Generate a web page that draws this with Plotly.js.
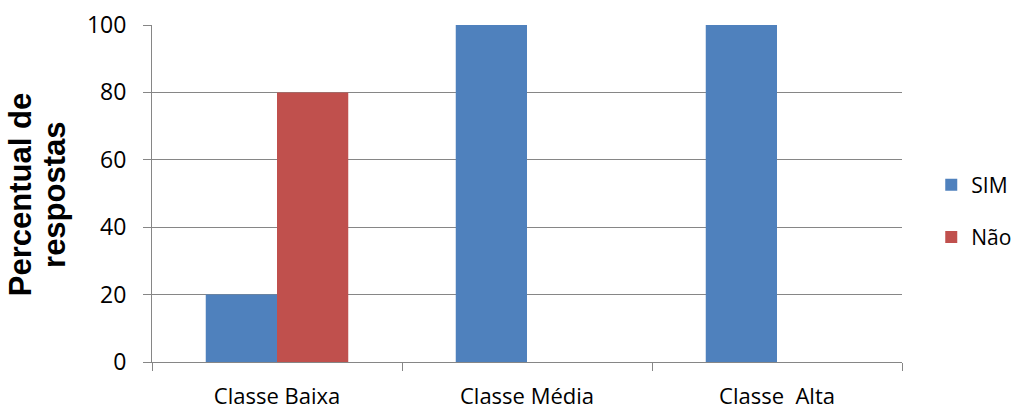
<!DOCTYPE html>
<html>
<head>
<meta charset="utf-8">
<script src="https://cdn.plot.ly/plotly-3.0.1.min.js"></script>
<style>
  html, body { margin: 0; padding: 0; background: #ffffff; }
  #chart { width: 1012px; height: 410px; }
</style>
</head>
<body>
<div id="chart"></div>
<script>
// Categories and answer percentages per class
const categories = ['Classe Baixa', 'Classe Média', 'Classe  Alta'];
const simValues = [20, 100, 100];
const naoValues = [80, 0, 0];
const seriesNames = ['SIM', 'Não'];
const yTicks = [0, 20, 40, 60, 80, 100];

const gridColor = '#868686';
const textFamily = 'Open Sans, Liberation Sans, sans-serif';
const titleFont = { family: 'Liberation Sans, Arial, sans-serif', size: 31, color: '#000000' };

const traces = [
  {
    type: 'bar', name: seriesNames[0], x: categories, y: simValues,
    marker: { color: '#4F81BD' }, legendgroup: 'a', hoverinfo: 'x+y'
  },
  {
    type: 'bar', name: seriesNames[1], x: categories, y: naoValues,
    marker: { color: '#C0504D' }, legendgroup: 'b', hoverinfo: 'x+y'
  }
];

const layout = {
  width: 1012, height: 410,
  margin: { l: 152, r: 110, t: 25, b: 48, autoexpand: false },
  paper_bgcolor: '#ffffff', plot_bgcolor: '#ffffff',
  barmode: 'group', bargap: 0.43, bargroupgap: 0,
  showlegend: true,
  legend: {
    x: 1.039, xanchor: 'left', xref: 'paper', y: 0.448, yanchor: 'middle',
    font: { family: textFamily, size: 21, color: '#000000' },
    tracegroupgap: 22, traceorder: 'grouped', itemwidth: 30
  },
  xaxis: {
    type: 'category', showline: true, linecolor: gridColor, linewidth: 1,
    ticks: 'outside', tickson: 'boundaries', ticklen: 8, tickcolor: gridColor,
    showgrid: false, ticklabelstandoff: 15,
    tickfont: { family: textFamily, size: 22, color: '#000000' }
  },
  yaxis: {
    range: [0, 100], tickvals: yTicks, ticktext: yTicks.map(String),
    showline: true, linecolor: gridColor, linewidth: 1,
    ticks: 'outside', ticklen: 8, tickcolor: gridColor,
    showgrid: true, gridcolor: gridColor, gridwidth: 1, zeroline: false,
    ticklabelstandoff: 12,
    tickfont: { family: textFamily, size: 23, color: '#000000' }
  },
  annotations: [
    {
      text: '<b>Percentual de</b>', xref: 'paper', yref: 'paper',
      x: -0.176, y: 0.495, xanchor: 'center', yanchor: 'middle',
      textangle: -90, showarrow: false, font: titleFont
    },
    {
      text: '<b>respostas</b>', xref: 'paper', yref: 'paper',
      x: -0.131, y: 0.495, xanchor: 'center', yanchor: 'middle',
      textangle: -90, showarrow: false, font: titleFont
    }
  ]
};

Plotly.newPlot('chart', traces, layout, { displayModeBar: false, staticPlot: true });
</script>
</body>
</html>
